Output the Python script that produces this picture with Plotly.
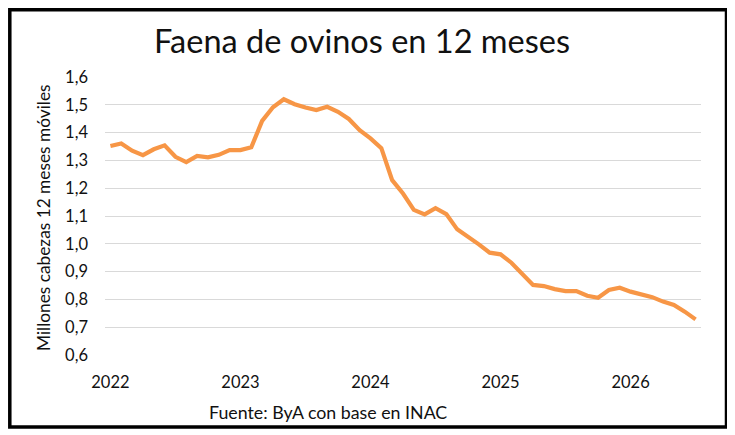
import pandas as pd
import plotly.graph_objects as go

# Faena de ovinos, millones de cabezas, acumulado 12 meses (ene 2022 - jul 2026)
meses = pd.date_range("2022-01-01", periods=55, freq="MS").strftime("%Y-%m").tolist()
faena = [
    1.352, 1.361, 1.335, 1.319, 1.340, 1.354, 1.313, 1.294, 1.316, 1.311, 1.320, 1.337,  # 2022
    1.337, 1.347, 1.442, 1.491, 1.520, 1.502, 1.490, 1.481, 1.493, 1.475, 1.449, 1.409,  # 2023
    1.379, 1.344, 1.229, 1.181, 1.122, 1.106, 1.128, 1.107, 1.052, 1.026, 0.998, 0.968,  # 2024
    0.962, 0.932, 0.891, 0.852, 0.848, 0.837, 0.830, 0.830, 0.813, 0.806, 0.834, 0.842,  # 2025
    0.828, 0.818, 0.808, 0.792, 0.780, 0.756, 0.728,  # 2026
]
anios = ["2022", "2023", "2024", "2025", "2026"]
y_ticks = [0.6, 0.7, 0.8, 0.9, 1.0, 1.1, 1.2, 1.3, 1.4, 1.5, 1.6]

FONT = "Lato"
TXT = "#111111"

# la pagina deja ~8px de margen, asi que la figura es 8px mas chica
W, H = 727, 427
L, R, T, B = 97, 34, 69, 80
PW, PH = W - L - R, H - T - B

x_idx = list(range(len(meses)))

fig = go.Figure()
fig.add_trace(go.Scatter(
    x=x_idx, y=faena, mode="lines",
    line=dict(color="#F79646", width=4.2),
    customdata=meses, hovertemplate="%{customdata}: %{y:.3f}<extra></extra>",
    showlegend=False,
))

fig.update_layout(
    width=W, height=H,
    margin=dict(l=L, r=R, t=T, b=B),
    paper_bgcolor="white", plot_bgcolor="white",
    separators=",.",
    font=dict(family=FONT, color=TXT),
    title=dict(text="Faena de ovinos en 12 meses", font=dict(family=FONT, size=32.5, color=TXT),
               xref="container", x=354 / W, xanchor="center",
               yref="container", y=1 - 34 / H, yanchor="middle"),
)

fig.update_xaxes(
    range=[-0.5, len(meses) - 0.5],
    tickvals=[0, 12, 24, 36, 48], ticktext=anios,
    tickfont=dict(size=16.5, color=TXT),
    showgrid=False, zeroline=False, showline=False, ticks="",
    ticklabelstandoff=15,
)
fig.update_yaxes(
    range=[0.6, 1.6], tickvals=y_ticks, tickformat=".1f",
    tickfont=dict(size=16.5, color=TXT),
    showgrid=True, gridcolor="#D9D9D9", gridwidth=1,
    zeroline=False, showline=False, ticks="",
    ticklabelstandoff=16,
)

# titulo eje y y fuente como anotaciones para ubicarlos a mano
fig.add_annotation(text="Millones cabezas 12 meses móviles", textangle=-90,
                   xref="paper", yref="paper", x=(35 - L) / PW, y=(T + PH - 210) / PH,
                   xanchor="center", yanchor="middle", showarrow=False,
                   font=dict(family=FONT, size=17.3, color=TXT))
fig.add_annotation(text="Fuente: ByA con base en INAC",
                   xref="paper", yref="paper", x=(320 - L) / PW, y=(T + PH - 404) / PH,
                   xanchor="center", yanchor="middle", showarrow=False,
                   font=dict(family=FONT, size=17.8, color=TXT))

# marco negro alrededor de todo el grafico
fig.add_shape(type="rect", xref="paper", yref="paper",
              x0=(1.8 - L) / PW, x1=(718.5 - L) / PW,
              y0=(T + PH - 419) / PH, y1=(T + PH - 1.8) / PH,
              line=dict(color="black", width=3.5), fillcolor="rgba(0,0,0,0)", layer="above")

fig.write_html("out.html")
